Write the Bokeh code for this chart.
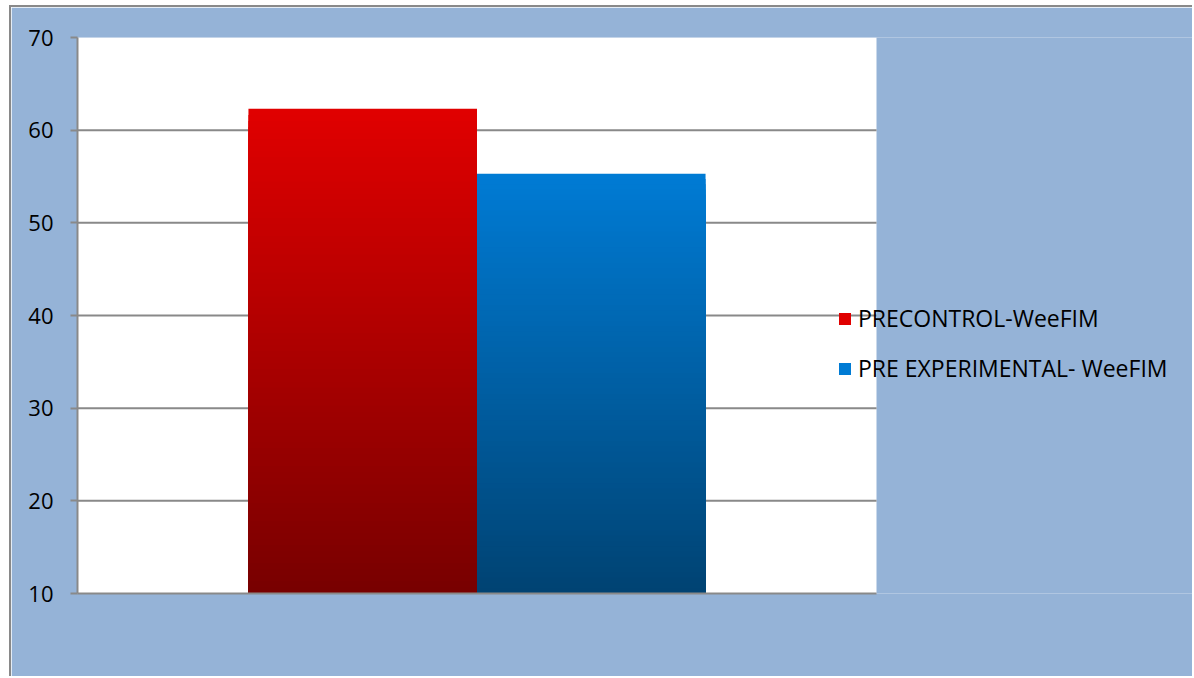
import numpy as np
from bokeh.plotting import figure
from bokeh.models import Range1d, FixedTicker, Legend, LegendItem, ColumnDataSource, BoxAnnotation
from bokeh.embed import file_html
from bokeh.resources import INLINE

# ---- data ----
series = ["PRECONTROL-WeeFIM", "PRE EXPERIMENTAL- WeeFIM"]
values = [62.3, 55.3]
top_colors = [(224, 0, 0), (0, 123, 212)]
bottom_colors = [(120, 0, 0), (0, 67, 115)]
y_ticks = [10, 20, 30, 40, 50, 60, 70]

Y0, Y1 = 10, 70
X0, X1 = -0.748, 2.748          # extent of the white plot area
XMAX = X0 + (X1 - X0) * 1117 / 799  # frame runs on to the right edge (legend area)
GRAY = "#898989"
BG = "#95B3D7"
FONT = "Open Sans"

p = figure(width=1183, height=671, output_backend="svg", toolbar_location=None,
           x_range=Range1d(X0, XMAX), y_range=Range1d(Y0, Y1),
           min_border_left=66, min_border_top=30, min_border_right=0, min_border_bottom=85,
           margin=(5, 0, 0, 9),
           styles={"border-left": f"2px solid {GRAY}", "border-top": f"2px solid {GRAY}"})
p.border_fill_color = BG
p.background_fill_color = BG
p.outline_line_color = None

# white plot area
p.add_layout(BoxAnnotation(left=X0, right=X1, bottom=Y0, top=Y1, fill_color="white",
                           fill_alpha=1, line_color=None, level="underlay"))

# grid lines limited to the plot area
grid_y = [t for t in y_ticks if Y0 < t < Y1]
p.segment(x0=[X0] * len(grid_y), x1=[X1] * len(grid_y), y0=grid_y, y1=grid_y,
          line_color=GRAY, line_width=2)

renderers = []
N = 80
for i, (name, v) in enumerate(zip(series, values)):
    tops = Y0 + (v - Y0) * np.linspace(1, 1.0 / N, N)
    cols = []
    for f in np.linspace(0, 1, N):
        c = [int(round(top_colors[i][k] * (1 - f) + bottom_colors[i][k] * f)) for k in range(3)]
        cols.append("#%02x%02x%02x" % tuple(c))
    src = ColumnDataSource(dict(left=[i] * N, right=[i + 1] * N, bottom=[Y0] * N, top=list(tops), color=cols))
    r = p.quad(left="left", right="right", bottom="bottom", top="top", fill_color="color",
               line_color=None, source=src)
    renderers.append(r)

# axes
p.yaxis.ticker = FixedTicker(ticks=y_ticks)
p.yaxis.axis_line_color = GRAY
p.yaxis.axis_line_width = 2
p.yaxis.major_tick_line_color = GRAY
p.yaxis.major_tick_line_width = 2
p.yaxis.major_tick_in = 0
p.yaxis.major_tick_out = 7
p.yaxis.minor_tick_line_color = None
p.yaxis.major_label_text_font = FONT
p.yaxis.major_label_text_font_size = "22px"
p.yaxis.major_label_text_color = "black"
p.yaxis.major_label_standoff = 17

p.xaxis.bounds = (X0, X1)
p.xaxis.major_tick_line_color = None
p.xaxis.minor_tick_line_color = None
p.xaxis.major_label_text_font_size = "0px"
p.xaxis.axis_line_color = GRAY
p.xaxis.axis_line_width = 2

p.xgrid.visible = False
p.ygrid.visible = False

legend = Legend(items=[LegendItem(label=s, renderers=[r], index=0) for s, r in zip(series, renderers)],
                location=(760, 209), orientation="vertical",
                glyph_width=15, glyph_height=15, label_standoff=6,
                label_text_font=FONT, label_text_font_size="23px", label_height=23,
                label_text_color="black",
                spacing=18, padding=0, margin=0,
                border_line_color=None, background_fill_alpha=0)
p.add_layout(legend, "center")

open("out.html", "w").write(file_html(p, INLINE))
